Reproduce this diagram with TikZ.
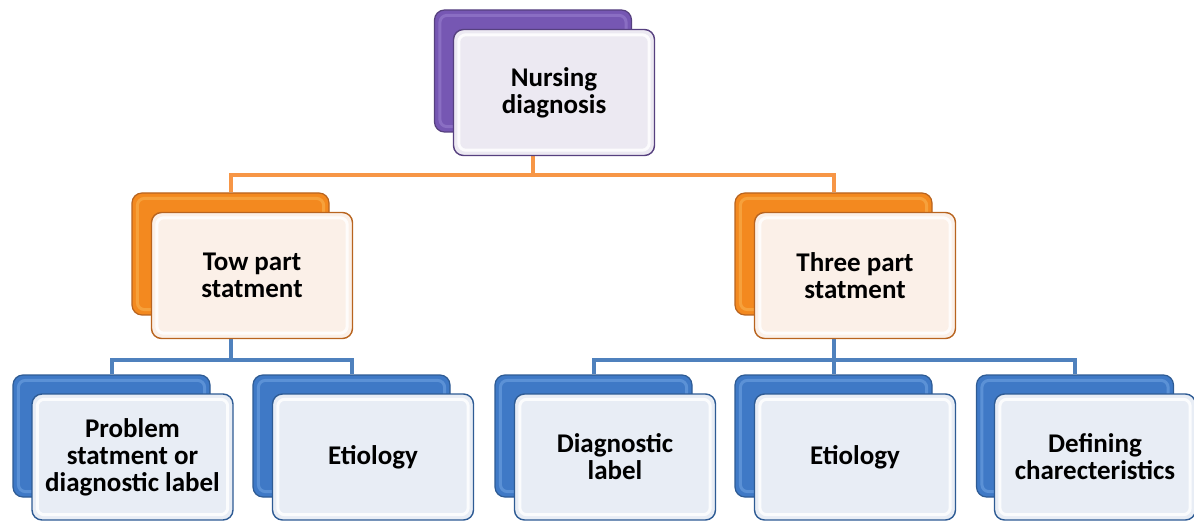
\documentclass[tikz,border=0pt]{standalone}
\usepackage{fontspec}
\setmainfont{Carlito}
\usetikzlibrary{backgrounds}
\definecolor{purM}{HTML}{7657B3}
\definecolor{purD}{HTML}{56407F}
\definecolor{purH}{HTML}{A48CD8}
\definecolor{purF}{HTML}{ECE9F2}
\definecolor{oraM}{HTML}{F3891F}
\definecolor{oraD}{HTML}{B8641F}
\definecolor{oraH}{HTML}{FBC060}
\definecolor{oraF}{HTML}{FBF0E8}
\definecolor{bluM}{HTML}{3F79C6}
\definecolor{bluD}{HTML}{2E5B94}
\definecolor{bluH}{HTML}{7FB0EA}
\definecolor{bluF}{HTML}{E8EDF5}
\definecolor{oraL}{HTML}{F79646}
\definecolor{bluL}{HTML}{4F81BD}
\tikzset{
  backbox/.style={rectangle, rounded corners=10pt, minimum width=197pt, minimum height=122pt, inner sep=0pt, line width=1.2pt},
  frontbox/.style={rectangle, rounded corners=10pt, minimum width=201pt, minimum height=126pt, inner sep=2pt, line width=1.4pt, align=center, font=\fontsize{27}{27}\selectfont\bfseries},
  pback/.style={backbox, draw=purD, fill=purM},
  pfront/.style={frontbox, draw=purD, fill=purF},
  oback/.style={backbox, draw=oraD, fill=oraM},
  ofront/.style={frontbox, draw=oraD, fill=oraF},
  bback/.style={backbox, draw=bluD, fill=bluM},
  bfront/.style={frontbox, draw=bluD, fill=bluF},
  gloss/.style={line width=3pt, rounded corners=7pt, opacity=0.45},
  bevel/.style={draw=white, line width=3pt, rounded corners=7pt, opacity=0.85},
  oline/.style={draw=oraL, line width=4pt},
  bline/.style={draw=bluL, line width=4pt},
}
\newcommand{\glossbox}[2]{\draw[gloss, draw=#2] ([shift={(6,6)}]#1.north west) rectangle ([shift={(-6,-6)}]#1.south east);}
\newcommand{\bevelbox}[1]{\draw[bevel] ([shift={(6,6)}]#1.north west) rectangle ([shift={(-6,-6)}]#1.south east);}
\begin{document}
\begin{tikzpicture}[x=1pt, y=-1pt]
\useasboundingbox (0,0) rectangle (1194,521);
% top
\node[pback] (nd-back) at (533,71) {};
\glossbox{nd-back}{purH}
\node[pfront] (nd) at (554,92.5) {Nursing\\diagnosis};
\bevelbox{nd}
% second level
\node[oback] (tp-back) at (230.5,254) {};
\glossbox{tp-back}{oraH}
\node[ofront] (tp) at (252,275.5) {Tow part\\statment};
\bevelbox{tp}
\node[oback] (th-back) at (833.5,254) {};
\glossbox{th-back}{oraH}
\node[ofront] (th) at (855,275.5) {Three part\\statment};
\bevelbox{th}
% third level
\node[bback] (ps-back) at (111.5,436) {};
\glossbox{ps-back}{bluH}
\node[bfront] (ps) at (132.5,457) {Problem\\statment or\\diagnostic label};
\bevelbox{ps}
\node[bback] (e1-back) at (351.5,436) {};
\glossbox{e1-back}{bluH}
\node[bfront] (e1) at (373,457) {Etiology};
\bevelbox{e1}
\node[bback] (dl-back) at (593.5,436) {};
\glossbox{dl-back}{bluH}
\node[bfront] (dl) at (615,457) {Diagnostic\\label};
\bevelbox{dl}
\node[bback] (e2-back) at (833.5,436) {};
\glossbox{e2-back}{bluH}
\node[bfront] (e2) at (855,457) {Etiology};
\bevelbox{e2}
\node[bback] (dc-back) at (1075,436) {};
\glossbox{dc-back}{bluH}
\node[bfront] (dc) at (1095,457) {Defining\\charecteristics};
\bevelbox{dc}
% connectors
\coordinate (bus1) at (533,175);
\coordinate (bus2) at (230.5,360);
\coordinate (bus3) at (833.5,360);
\begin{scope}[on background layer]
\draw[oline] (nd-back.south) -- (bus1);
\draw[oline] (tp-back.north) |- (bus1) -| (th-back.north);
\draw[bline] (tp-back.south) -- (bus2);
\draw[bline] (ps-back.north) |- (bus2) -| (e1-back.north);
\draw[bline] (th-back.south) -- (bus3);
\draw[bline] (dl-back.north) |- (bus3) -| (dc-back.north);
\draw[bline] (bus3) -- (e2-back.north);
\end{scope}
\end{tikzpicture}
\end{document}
